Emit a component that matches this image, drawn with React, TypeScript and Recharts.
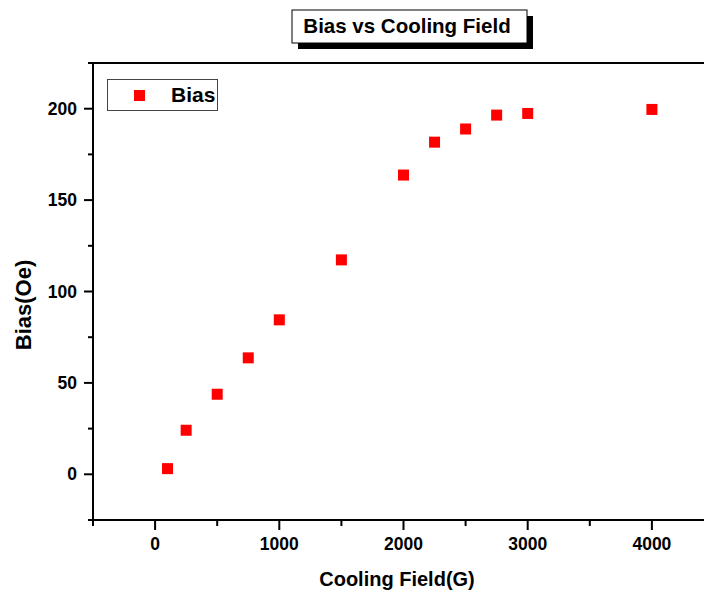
import { ScatterChart, Scatter, XAxis, YAxis, Legend } from "recharts"

const coolingField = [100, 250, 500, 750, 1000, 1500, 2000, 2250, 2500, 2750, 3000, 4000]
const bias = [3.1, 24.1, 43.8, 63.7, 84.5, 117.3, 163.7, 181.7, 188.9, 196.5, 197.4, 199.6]
const xTicks = [-500, 0, 500, 1000, 1500, 2000, 2500, 3000, 3500, 4000, 4500]
const yTicks = [-25, 0, 25, 50, 75, 100, 125, 150, 175, 200, 225]

const data = coolingField.map((x, i) => ({ x, y: bias[i] }))

const FONT = "'Liberation Sans', Arial, sans-serif"

function BottomTick({ x, y, payload }: any) {
  const major = payload.value % 1000 === 0
  return (
    <g>
      <line x1={x} y1={y} x2={x} y2={y + (major ? 10 : 6)} stroke="#000" strokeWidth={2} />
      {major && (
        <text x={x} y={y + 30} textAnchor="middle" fontSize={17.5} fontWeight="bold" fontFamily={FONT} fill="#000">
          {payload.value}
        </text>
      )}
    </g>
  )
}

function TopTick({ x, y }: any) {
  return <line x1={x} y1={y} x2={x} y2={y + 8} stroke="#000" strokeWidth={2} />
}

function LeftTick({ x, y, payload }: any) {
  const major = payload.value % 50 === 0
  return (
    <g>
      <line x1={x - (major ? 9 : 5)} y1={y} x2={x} y2={y} stroke="#000" strokeWidth={2} />
      {major && (
        <text x={x - 16} y={y + 6} textAnchor="end" fontSize={17.5} fontWeight="bold" fontFamily={FONT} fill="#000">
          {payload.value}
        </text>
      )}
    </g>
  )
}

function Square({ cx, cy }: any) {
  return <rect x={cx - 5.5} y={cy - 5.5} width={11} height={11} fill="#ff0000" />
}

function LegendBox() {
  return (
    <div
      style={{
        width: 109,
        height: 30,
        border: "1px solid #444",
        background: "#fff",
        position: "relative",
        fontFamily: FONT,
      }}
    >
      <div style={{ position: "absolute", left: 26, top: 10, width: 11, height: 11, background: "#ff0000" }} />
      <div style={{ position: "absolute", left: 63, top: 3, fontSize: 21, fontWeight: "bold", lineHeight: "24px" }}>
        Bias
      </div>
    </div>
  )
}

export default function App() {
  return (
    <div style={{ position: "absolute", left: 0, top: 0, width: 704, height: 593, overflow: "hidden", background: "#fff" }}>
      <ScatterChart width={720} height={593} margin={{ top: 62, right: 6, bottom: 43, left: 33 }}>
        <XAxis
          xAxisId="bottom"
          dataKey="x"
          type="number"
          domain={[-500, 4500]}
          ticks={xTicks}
          interval={0}
          allowDataOverflow
          height={30}
          tickSize={0}
          tickMargin={0}
          tickLine={false}
          tick={<BottomTick />}
          axisLine={{ stroke: "#000", strokeWidth: 2 }}
        />
        <XAxis
          xAxisId="top"
          orientation="top"
          type="number"
          domain={[-500, 4500]}
          ticks={xTicks}
          interval={0}
          allowDataOverflow
          height={1}
          tickSize={0}
          tickMargin={0}
          tickLine={false}
          tick={<TopTick />}
          axisLine={{ stroke: "#000", strokeWidth: 2 }}
        />
        <YAxis
          dataKey="y"
          type="number"
          domain={[-25, 225]}
          ticks={yTicks}
          interval={0}
          allowDataOverflow
          width={60}
          tickSize={0}
          tickMargin={0}
          tickLine={false}
          tick={<LeftTick />}
          axisLine={{ stroke: "#000", strokeWidth: 2 }}
        />
        <Legend
          layout="horizontal"
          verticalAlign="middle"
          content={<LegendBox />}
          wrapperStyle={{ position: "absolute", left: 107, top: 79, width: "auto", height: "auto" }}
        />
        <Scatter name="Bias" data={data} xAxisId="bottom" shape={<Square />} fill="#ff0000" isAnimationActive={false} />
      </ScatterChart>
      <svg width={704} height={593} style={{ position: "absolute", left: 0, top: 0, pointerEvents: "none" }}>
        <rect x={298} y={16} width={235} height={33} fill="#000" />
        <rect x={292} y={10} width={235} height={33} fill="#fff" stroke="#000" strokeWidth={1} />
        <text x={407} y={33} textAnchor="middle" fontSize={20.5} fontWeight="bold" fontFamily={FONT} fill="#000">
          Bias vs Cooling Field
        </text>
        <text x={397} y={586} textAnchor="middle" fontSize={20} fontWeight="bold" fontFamily={FONT} fill="#000">
          Cooling Field(G)
        </text>
        <text
          x={0}
          y={0}
          transform="translate(31 305) rotate(-90)"
          textAnchor="middle"
          fontSize={22}
          fontWeight="bold"
          fontFamily={FONT}
          fill="#000"
        >
          Bias(Oe)
        </text>
      </svg>
    </div>
  )
}
